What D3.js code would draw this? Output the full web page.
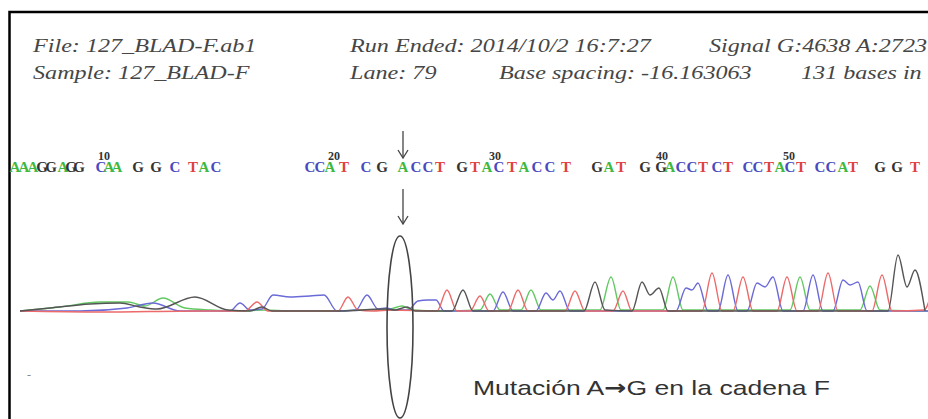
<!DOCTYPE html>
<html>
<head>
<meta charset="utf-8">
<script src="https://cdn.jsdelivr.net/npm/d3@7"></script>
<style>
  body { margin: 0; background: #fff; }
  svg { display: block; }
</style>
</head>
<body>
<script>
// run info printed above the trace
const headerTop    = ["File: 127_BLAD-F.ab1", "Run Ended: 2014/10/2 16:7:27", "Signal G:4638 A:2723"]
const headerBottom = ["Sample: 127_BLAD-F", "Lane: 79", "Base spacing: -16.163063", "131 bases in"]

// called bases and where they sit (scan position)
const bases   = "AAAGGAGGCAAGGCTACCCATCGACCTGTACTACCTGATGGACCTCTCCTACTCCATGGT".split("")
const basePos = [15, 24, 33, 42, 51, 63, 71, 79, 101, 109, 117, 138, 156, 175, 193, 204, 216,
                 310, 320, 330, 344, 366, 382, 403, 416, 428, 440, 462, 475, 487, 499, 512, 524,
                 537, 550, 566, 597, 609, 621, 645, 661, 670, 681, 692, 703, 717, 728, 748, 758,
                 769, 780, 790, 801, 820, 831, 843, 853, 880, 897, 915]
const tickNums = [10, 20, 30, 40, 50, 60]
const tickPos  = [104, 334, 495, 662, 789, 936]
const mutationBase = 24

// trace vertices [scan, signal] per dye
const traceA = [[20,80],[60,400],[100,800],[128,800],[145,480],[163,1120],[185,320],[210,160],[240,80],
  [265,160],[290,80],[330,80],[360,160],[390,240],[402,480],[412,160],[440,80],[480,160],[490,1440],
  [500,160],[521,160],[531,1760],[541,160],[600,160],[611,2800],[621,160],[663,160],[673,2800],[683,160],
  [790,160],[800,2800],[810,160],[860,160],[870,2080],[880,160],[928,80]]
const traceC = [[20,80],[80,80],[127,320],[153,720],[180,80],[230,80],[240,720],[250,160],[262,240],
  [273,1360],[290,1200],[310,1280],[324,1360],[337,80],[356,160],[367,1360],[378,240],[386,320],[395,160],
  [408,160],[418,880],[428,960],[436,960],[444,80],[493,80],[503,1600],[513,80],[536,80],[546,1520],
  [553,960],[560,1680],[570,80],[676,80],[686,1920],[692,1760],[698,2320],[708,80],[718,80],[728,2960],
  [738,80],[747,80],[757,2320],[765,2000],[773,2800],[783,80],[803,80],[813,2960],[823,80],[833,80],
  [843,2560],[850,2160],[858,2400],[867,80],[928,80]]
const traceT = [[20,80],[100,0],[200,80],[245,80],[257,800],[268,80],[338,80],[348,1200],[358,160],
  [372,80],[392,160],[437,80],[447,1760],[457,80],[470,80],[480,1280],[489,80],[508,80],[518,1760],
  [528,80],[565,80],[575,1680],[585,80],[613,80],[623,1680],[632,80],[702,80],[712,3120],[722,80],
  [733,80],[743,2800],[753,80],[777,80],[787,2800],[797,80],[818,80],[828,3120],[838,80],[872,80],
  [882,2960],[892,80],[924,160],[934,2400]]
const traceG = [[20,80],[50,320],[90,640],[120,720],[140,400],[157,240],[195,1200],[228,160],[250,80],
  [262,400],[272,80],[340,80],[385,240],[395,160],[407,400],[415,80],[452,80],[463,1760],[473,80],
  [584,80],[595,2400],[605,160],[632,80],[642,2400],[650,1360],[659,1920],[668,80],[888,80],[898,4560],
  [907,2000],[915,3360],[925,80]]

const note = ["Mutación A", "→", "G en la cadena F"]

const W = 928, H = 419

const dyeColor    = {A: "#62c962", C: "#6a6ad8", G: "#555555", T: "#ec6a6a"}
const letterColor = {A: "#3fb83f", C: "#4848c0", G: "#333333", T: "#e04040"}

const svg = d3.select("body").append("svg")
    .attr("width", W)
    .attr("height", H)
    .style("font-family", "'Liberation Serif', serif")

const x = d3.scaleLinear().domain([0, 928]).range([0, 928])
const y = d3.scaleLinear().domain([0, 4800]).range([312, 252])

// frame
svg.append("rect")
    .attr("x", 9.5).attr("y", 12)
    .attr("width", 1000).attr("height", 500)
    .attr("fill", "none")
    .attr("stroke", "#000")
    .attr("stroke-width", 2.5)

// header, the screenshot is stretched sideways so widen the text the same way
const stretch = 1.27
const topCols    = [33, 350, 709]
const bottomCols = [33, 350, 499, 801]

function headerRow(texts, cols, baseline) {
    svg.append("g").selectAll("text")
        .data(texts)
        .enter()
        .append("text")
        .attr("x", (d, i) => cols[i])
        .attr("y", baseline)
        .style("font-style", "italic")
        .style("font-size", "19px")
        .style("fill", "#464646")
        .text(d => d)
        .each(function() {
            const w = this.getComputedTextLength()
            d3.select(this)
                .attr("textLength", w * stretch)
                .attr("lengthAdjust", "spacingAndGlyphs")
        })
}
headerRow(headerTop, topCols, 52)
headerRow(headerBottom, bottomCols, 79)

// base numbers
svg.append("g").selectAll("text")
    .data(tickNums)
    .enter()
    .append("text")
    .attr("x", (d, i) => x(tickPos[i]))
    .attr("y", 160)
    .attr("text-anchor", "middle")
    .style("font-size", "12px")
    .style("font-weight", "bold")
    .style("fill", "#333")
    .text(d => d)

// base calls
svg.append("g").selectAll("text")
    .data(bases)
    .enter()
    .append("text")
    .attr("x", (d, i) => x(basePos[i]))
    .attr("y", 172)
    .attr("text-anchor", "middle")
    .style("font-size", "15px")
    .style("font-weight", "bold")
    .style("fill", d => letterColor[d])
    .text(d => d)

// traces
const line = d3.line()
    .x(d => x(d[0]))
    .y(d => y(d[1]))
    .curve(d3.curveMonotoneX)

const traces = [["A", traceA], ["C", traceC], ["T", traceT], ["G", traceG]]
svg.append("g").selectAll("path")
    .data(traces)
    .enter()
    .append("path")
    .attr("d", d => line(d[1]))
    .attr("fill", "none")
    .attr("stroke", d => dyeColor[d[0]])
    .attr("stroke-width", 1.4)
    .attr("stroke-linejoin", "round")

// mutation marks
const mx = x(basePos[mutationBase - 1])

function arrow(x0, y0, y1) {
    const g = svg.append("g")
        .attr("stroke", "#444")
        .attr("stroke-width", 1.3)
        .attr("fill", "none")
    g.append("line").attr("x1", x0).attr("x2", x0).attr("y1", y0).attr("y2", y1)
    g.append("path").attr("d", `M${x0 - 5},${y1 - 8}L${x0},${y1}L${x0 + 5},${y1 - 8}`)
}
arrow(mx, 131, 158)
arrow(mx, 189, 224)

svg.append("ellipse")
    .attr("cx", mx - 3)
    .attr("cy", 327)
    .attr("rx", 13)
    .attr("ry", 91)
    .attr("fill", "none")
    .attr("stroke", "#444")
    .attr("stroke-width", 1.6)

svg.append("text")
    .attr("x", 29)
    .attr("y", 379)
    .attr("text-anchor", "middle")
    .style("font-size", "12px")
    .style("fill", "#888")
    .text("-")

const noteText = svg.append("text")
    .attr("x", 473)
    .attr("y", 395)
    .attr("textLength", 357)
    .attr("lengthAdjust", "spacingAndGlyphs")
    .style("font-family", "'Liberation Sans', Arial, sans-serif")
    .style("font-size", "21px")
    .style("fill", "#333")
noteText.selectAll("tspan")
    .data(note)
    .enter()
    .append("tspan")
    .style("font-family", (d, i) => i === 1 ? "'DejaVu Sans', sans-serif" : null)
    .style("font-weight", (d, i) => i === 1 ? "bold" : null)
    .text(d => d)
</script>
</body>
</html>
